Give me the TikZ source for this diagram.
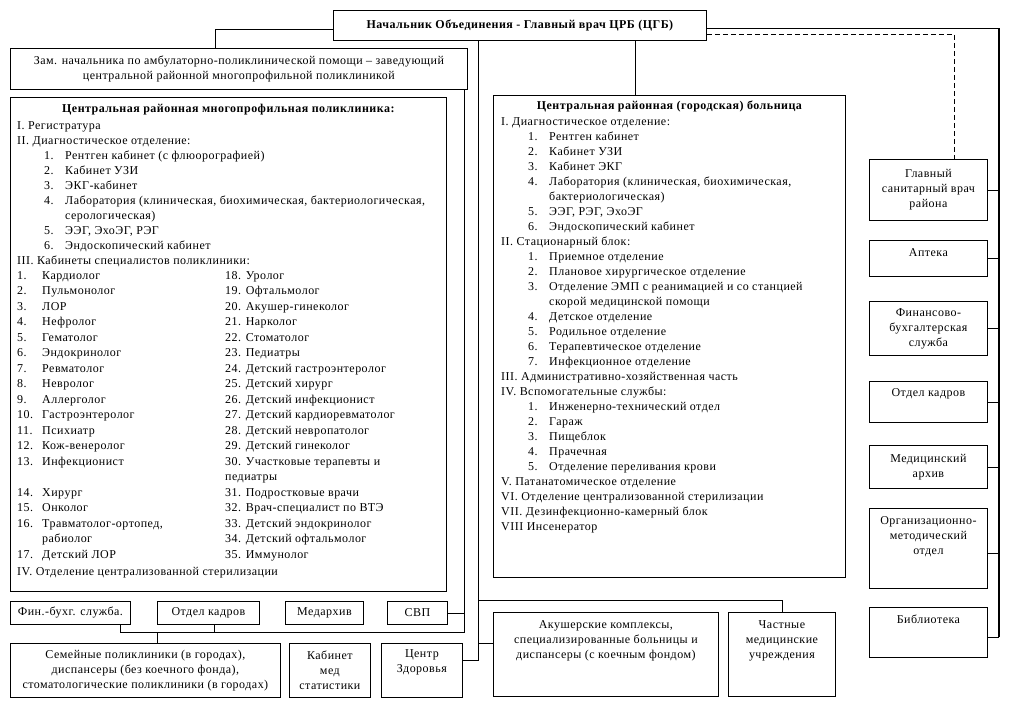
\documentclass[tikz,border=0pt]{standalone}
\usepackage{fontspec}
\setmainfont{Liberation Serif}[LetterSpace=4]
\usetikzlibrary{positioning}
\newcommand{\itm}[2]{\hspace*{27pt}\makebox[21pt][l]{#1}#2}
\newcommand{\cont}[1]{\hspace*{48pt}#1}
\newcommand{\spc}[3]{\makebox[208pt][l]{\makebox[25pt][l]{#1}#2}#3}

\begin{document}
\begin{tikzpicture}[x=1pt, y=-1pt,
  every node/.style={font=\fontsize{12}{15}\selectfont, inner sep=0pt},
  box/.style={draw, line width=0.8pt, anchor=north west, align=center},
  lst/.style={anchor=north west, align=left},
  ttl/.style={font=\fontsize{12}{15}\selectfont\bfseries},
  toptxt/.style={align=center},
  ln/.style={line width=0.8pt},
  busln/.style={line width=2.4pt}]
\useasboundingbox (0,0) rectangle (1009,704);

% head and deputy
\node[box, minimum width=373pt, minimum height=30pt] (nach) at (333,10) {\bfseries Начальник Объединения - Главный врач ЦРБ (ЦГБ)};
\node[box, minimum width=457pt, minimum height=41pt] (zam) at (10,48) {Зам. начальника по амбулаторно-поликлинической помощи – заведующий\\центральной районной многопрофильной поликлиникой};

% polyclinic
\node[box, minimum width=436pt, minimum height=494pt] (pol) at (10,97) {};
\node[ttl, below=7pt of pol.north] (pol-h) {Центральная районная многопрофильная поликлиника:};
\node[lst] (pol-a) at (17,121) {I. Регистратура\\
II. Диагностическое отделение:\\
\itm{1.}{Рентген кабинет (с флюорографией)}\\
\itm{2.}{Кабинет УЗИ}\\
\itm{3.}{ЭКГ-кабинет}\\
\itm{4.}{Лаборатория (клиническая, биохимическая, бактериологическая,}\\
\cont{серологическая)}\\
\itm{5.}{ЭЭГ, ЭхоЭГ, РЭГ}\\
\itm{6.}{Эндоскопический кабинет}\\
III. Кабинеты специалистов поликлиники:};
\node[lst, font=\fontsize{12}{15.5}\selectfont] (pol-b) at (17,271) {\spc{1.}{Кардиолог}{18. Уролог}\\
\spc{2.}{Пульмонолог}{19. Офтальмолог}\\
\spc{3.}{ЛОР}{20. Акушер-гинеколог}\\
\spc{4.}{Нефролог}{21. Нарколог}\\
\spc{5.}{Гематолог}{22. Стоматолог}\\
\spc{6.}{Эндокринолог}{23. Педиатры}\\
\spc{7.}{Ревматолог}{24. Детский гастроэнтеролог}\\
\spc{8.}{Невролог}{25. Детский хирург}\\
\spc{9.}{Аллерголог}{26. Детский инфекционист}\\
\spc{10.}{Гастроэнтеролог}{27. Детский кардиоревматолог}\\
\spc{11.}{Психиатр}{28. Детский невропатолог}\\
\spc{12.}{Кож-венеролог}{29. Детский гинеколог}\\
\spc{13.}{Инфекционист}{30. Участковые терапевты и}\\
\spc{}{}{педиатры}\\
\spc{14.}{Хирург}{31. Подростковые врачи}\\
\spc{15.}{Онколог}{32. Врач-специалист по ВТЭ}\\
\spc{16.}{Травматолог-ортопед,}{33. Детский эндокринолог}\\
\spc{}{рабиолог}{34. Детский офтальмолог}\\
\spc{17.}{Детский ЛОР}{35. Иммунолог}\\[2pt]
IV. Отделение централизованной стерилизации};

% hospital
\node[box, minimum width=352pt, minimum height=482pt] (crb) at (493,95) {};
\node[ttl, below=6pt of crb.north] (crb-h) {Центральная районная (городская) больница};
\node[lst] (crb-a) at (501,117.5) {I. Диагностическое отделение:\\
\itm{1.}{Рентген кабинет}\\
\itm{2.}{Кабинет УЗИ}\\
\itm{3.}{Кабинет ЭКГ}\\
\itm{4.}{Лаборатория (клиническая, биохимическая,}\\
\cont{бактериологическая)}\\
\itm{5.}{ЭЭГ, РЭГ, ЭхоЭГ}\\
\itm{6.}{Эндоскопический кабинет}\\
II. Стационарный блок:\\
\itm{1.}{Приемное отделение}\\
\itm{2.}{Плановое хирургическое отделение}\\
\itm{3.}{Отделение ЭМП с реанимацией и со станцией}\\
\cont{скорой медицинской помощи}\\
\itm{4.}{Детское отделение}\\
\itm{5.}{Родильное отделение}\\
\itm{6.}{Терапевтическое отделение}\\
\itm{7.}{Инфекционное отделение}\\
III. Административно-хозяйственная часть\\
IV. Вспомогательные службы:\\
\itm{1.}{Инженерно-технический отдел}\\
\itm{2.}{Гараж}\\
\itm{3.}{Пищеблок}\\
\itm{4.}{Прачечная}\\
\itm{5.}{Отделение переливания крови}\\
V. Патанатомическое отделение\\
VI. Отделение централизованной стерилизации\\
VII. Дезинфекционно-камерный блок\\
VIII Инсенератор};

% services column
\node[box, minimum width=118pt, minimum height=61pt] (gsv) at (869,159) {Главный\\санитарный врач\\района};
\node[box, minimum width=118pt, minimum height=36pt] (apt) at (869,240) {};
\node[toptxt, below=8pt of apt.north] (apt-t) {Аптека};
\node[box, minimum width=118pt, minimum height=54pt] (fbs) at (869,301) {Финансово-\\бухгалтерская\\служба};
\node[box, minimum width=118pt, minimum height=41pt] (okd) at (869,381) {};
\node[toptxt, below=7.5pt of okd.north] (okd-t) {Отдел кадров};
\node[box, minimum width=118pt, minimum height=43pt] (marh) at (869,445) {Медицинский\\архив};
\node[box, minimum width=118pt, minimum height=80pt] (omo) at (869,508) {};
\node[toptxt, below=8pt of omo.north] (omo-t) {Организационно-\\методический\\отдел};
\node[box, minimum width=118pt, minimum height=50pt] (lib) at (869,607) {};
\node[toptxt, below=7.5pt of lib.north] (lib-t) {Библиотека};

% lower row
\node[box, minimum width=120pt, minimum height=23pt] (fin) at (10,601) {Фин.-бухг. служба.};
\node[box, minimum width=102pt, minimum height=23pt] (kadry) at (157,601) {Отдел кадров};
\node[box, minimum width=78pt, minimum height=23pt] (medarh) at (285,601) {Медархив};
\node[box, minimum width=60pt, minimum height=23pt] (svp) at (387,601) {СВП};
\node[box, minimum width=270pt, minimum height=54pt] (sem) at (10,643) {Семейные поликлиники (в городах),\\диспансеры (без коечного фонда),\\стоматологические поликлиники (в городах)};
\node[box, minimum width=81pt, minimum height=54pt] (kms) at (289,643) {Кабинет\\мед\\статистики};
\node[box, minimum width=81pt, minimum height=54pt] (zdrav) at (381,643) {};
\node[toptxt, below=6.5pt of zdrav.north] (zdrav-t) {Центр\\Здоровья};
\node[box, minimum width=225pt, minimum height=84pt] (akush) at (493,612) {};
\node[toptxt, below=8.5pt of akush.north] (akush-t) {Акушерские комплексы,\\специализированные больницы и\\диспансеры (с коечным фондом)};
\node[box, minimum width=107pt, minimum height=84pt] (chast) at (728,612) {};
\node[toptxt, below=8.5pt of chast.north] (chast-t) {Частные\\медицинские\\учреждения};

% connectors from the head
\draw[ln] ([yshift=-4pt]nach.west) -| ([xshift=-24pt]zam.north);
\coordinate (hcrb) at ([xshift=115.5pt]nach.south);
\draw[ln] (hcrb) -- (hcrb |- crb.north);
\coordinate (trunk) at ([xshift=-41.5pt]nach.south);
\coordinate (zdr-in) at ([yshift=10pt]zdrav.east);
\coordinate (akush-in) at ([yshift=11pt]akush.west);
\coordinate (chast-in) at ([yshift=12pt]chast.north);
\draw[ln] (trunk) |- (zdr-in);
\draw[ln] (trunk |- akush-in) -- (akush-in);
\draw[ln] (trunk |- chast-in) -- (chast-in) -- (chast.north);

% deputy's units
\coordinate (zamr) at ([xshift=-3pt]zam.south east);
\coordinate (busr) at ([yshift=11pt]zamr |- sem.north);
\draw[ln] (zamr) -- (busr) -| ([xshift=50pt]fin.south);
\draw[ln] ([xshift=6pt]kadry.south) -- ([xshift=6pt]kadry.south |- busr);
\draw[ln] ([xshift=12pt]sem.north) -- ([xshift=12pt]sem.north |- busr);
\draw[ln] (svp.east) -- (svp.east -| zamr);

% services spine
\coordinate (spine) at ([xshift=11pt,yshift=-3pt]nach.east -| lib.east);
\coordinate (omo-in) at ([yshift=-5pt]omo.east);
\coordinate (lib-in) at ([yshift=-5pt]lib.east);
\draw[ln] ([yshift=-3pt]nach.east) -- (spine);
\foreach \b in {gsv,apt,fbs,okd,marh}
  \draw[ln] (\b.east) -- (\b.east -| spine);
\draw[ln] (omo-in) -- (omo-in -| spine);
\draw[ln] (lib-in) -- (lib-in -| spine);
\draw[busln] (spine) -- (spine |- lib-in);
\draw[ln, dash pattern=on 5pt off 3pt] ([yshift=-9pt]nach.east) -| ([xshift=26pt]gsv.north);
\end{tikzpicture}
\end{document}
